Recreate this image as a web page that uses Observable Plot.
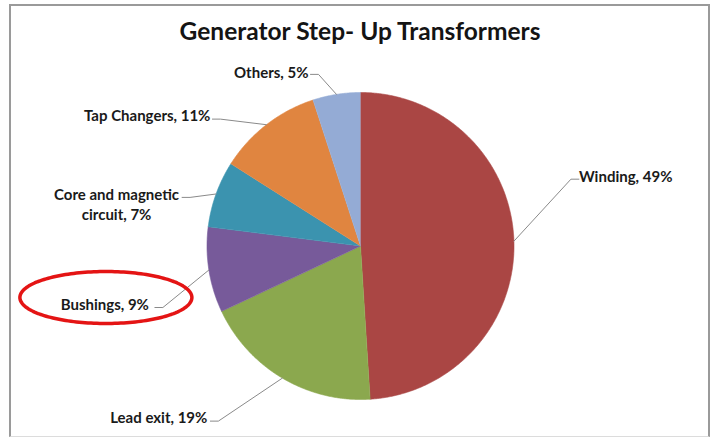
<!DOCTYPE html>
<html>
<head>
<meta charset="utf-8">
<script src="https://cdn.jsdelivr.net/npm/d3@7"></script>
<script src="https://cdn.jsdelivr.net/npm/@observablehq/plot@0.6"></script>
<style>
  html, body { margin: 0; padding: 0; background: #fff; }
  #wrap { position: relative; width: 711px; height: 440px; overflow: hidden; font-family: Lato, "Open Sans", sans-serif; }
  #frame { position: absolute; left: 9px; top: 4px; width: 701px; height: 433px; box-sizing: border-box;
           border: 2px solid #9a9a9a; border-bottom: 1px solid #dcdcdc; pointer-events: none; }
  #title { position: absolute; left: 0; top: 16px; width: 720px; text-align: center; font-size: 24.5px;
           font-weight: bold; color: #141414; line-height: 1.2; }
  #plot { position: absolute; left: 0; top: 0; }
</style>
</head>
<body>
<div id="wrap">
  <div id="plot"></div>
  <div id="title">Generator Step- Up Transformers</div>
  <div id="frame"></div>
</div>
<script>
// ---- data ----
const categories = ["Winding", "Lead exit", "Bushings", "Core and magnetic circuit", "Tap Changers", "Others"];
const shares = [49, 19, 9, 7, 11, 5];
const labelTexts = ["Winding, 49%", "Lead exit, 19%", "Bushings, 9%", "Core and magnetic\ncircuit, 7%", "Tap Changers, 11%", "Others, 5%"];
const sliceColors = ["#AA4644", "#8BA84E", "#775A9A", "#3B93AF", "#E08540", "#94ABD5"];
const highlighted = "Bushings";

// ---- layout (pixels) ----
const W = 711, H = 440, CX = 360, CY = 245.5, R = 153.5;
const STUB = 8;
// elbow offset from slice edge at mid-angle, side of stub, text anchor, text offset from stub end
const labelLayout = {
  "Winding":                   { elbow: [57, -62],   side:  1, anchor: "start",  text: [0, -4] },
  "Lead exit":                 { elbow: [-64, 43],   side: -1, anchor: "end",    text: [-3, -4.5] },
  "Bushings":                  { elbow: [-46, 37.5], side: -1, anchor: "end",    text: [-6, -4] },
  "Core and magnetic circuit": { elbow: [-26, 3.4],  side: -1, anchor: "middle", text: [-65.5, 6] },
  "Tap Changers":              { elbow: [-46, -5.6], side: -1, anchor: "end",    text: [-2, -5] },
  "Others":                    { elbow: [-18, -20],  side: -1, anchor: "end",    text: [-2, -3] }
};
const ellipseLayout = { center: [-43, -6], rx: 86, ry: 26 }; // relative to highlighted label's text end

const rows = categories.map((name, i) => ({ name, share: shares[i], label: labelTexts[i] }));
const arcs = d3.pie().sort(null).value(d => d.share).startAngle(0).endAngle(2 * Math.PI)(rows);

// px offset -> data units
const ux = px => px / R;
const uy = px => -px / R;

const slicePts = [];
const leaderPts = [];
const labelRows = [];
let hlPoint = null;
for (const a of arcs) {
  const name = a.data.name;
  slicePts.push({ name, x: 0, y: 0 });
  const n = Math.max(2, Math.ceil((a.endAngle - a.startAngle) / (0.4 * Math.PI / 180)));
  for (let k = 0; k <= n; k++) {
    const t = a.startAngle + (a.endAngle - a.startAngle) * k / n;
    slicePts.push({ name, x: Math.sin(t), y: Math.cos(t) });
  }
  const mid = (a.startAngle + a.endAngle) / 2;
  const ex = Math.sin(mid), ey = Math.cos(mid);
  const L = labelLayout[name];
  const elx = ex + ux(L.elbow[0]), ely = ey + uy(L.elbow[1]);
  const sx = elx + ux(L.side * STUB), sy = ely;
  leaderPts.push({ name, x: ex, y: ey }, { name, x: elx, y: ely }, { name, x: sx, y: sy });
  const tx = sx + ux(L.text[0]), ty = sy + uy(L.text[1]);
  labelRows.push({ name, label: a.data.label, anchor: L.anchor, x: tx, y: ty });
  if (name === highlighted) hlPoint = { x: tx, y: ty };
}

const ellipsePts = [];
if (hlPoint) {
  const ecx = hlPoint.x + ux(ellipseLayout.center[0]);
  const ecy = hlPoint.y + uy(ellipseLayout.center[1]);
  for (let k = 0; k < 180; k++) {
    const t = 2 * Math.PI * k / 180;
    ellipsePts.push({ x: ecx + ux(ellipseLayout.rx * Math.cos(t)), y: ecy + ux(ellipseLayout.ry * Math.sin(t)) });
  }
}

const font = "Lato, 'Open Sans', sans-serif";
const textMarks = ["start", "end", "middle"].map(anchor =>
  Plot.text(labelRows.filter(d => d.anchor === anchor), {
    x: "x", y: "y", text: "label", textAnchor: anchor, lineAnchor: "middle",
    lineHeight: 1.35, fontSize: 15, fontWeight: "bold", fill: "#1a1a1a", fontFamily: font
  })
);

const chart = Plot.plot({
  width: W, height: H,
  marginLeft: CX - R, marginRight: W - CX - R,
  marginTop: CY - R, marginBottom: H - CY - R,
  x: { domain: [-1, 1], axis: null },
  y: { domain: [-1, 1], axis: null },
  color: { domain: categories, range: sliceColors },
  style: { background: "transparent", overflow: "visible", fontFamily: font },
  marks: [
    Plot.line(slicePts, { x: "x", y: "y", z: "name", fill: "name", stroke: "name", strokeWidth: 0.6 }),
    Plot.line(leaderPts, { x: "x", y: "y", z: "name", stroke: "#8a8a8a", strokeWidth: 1 }),
    ...textMarks,
    Plot.line(ellipsePts, { x: "x", y: "y", curve: "linear-closed", stroke: "#e41414", strokeWidth: 3.5 })
  ]
});
document.getElementById("plot").appendChild(chart);
</script>
</body>
</html>
